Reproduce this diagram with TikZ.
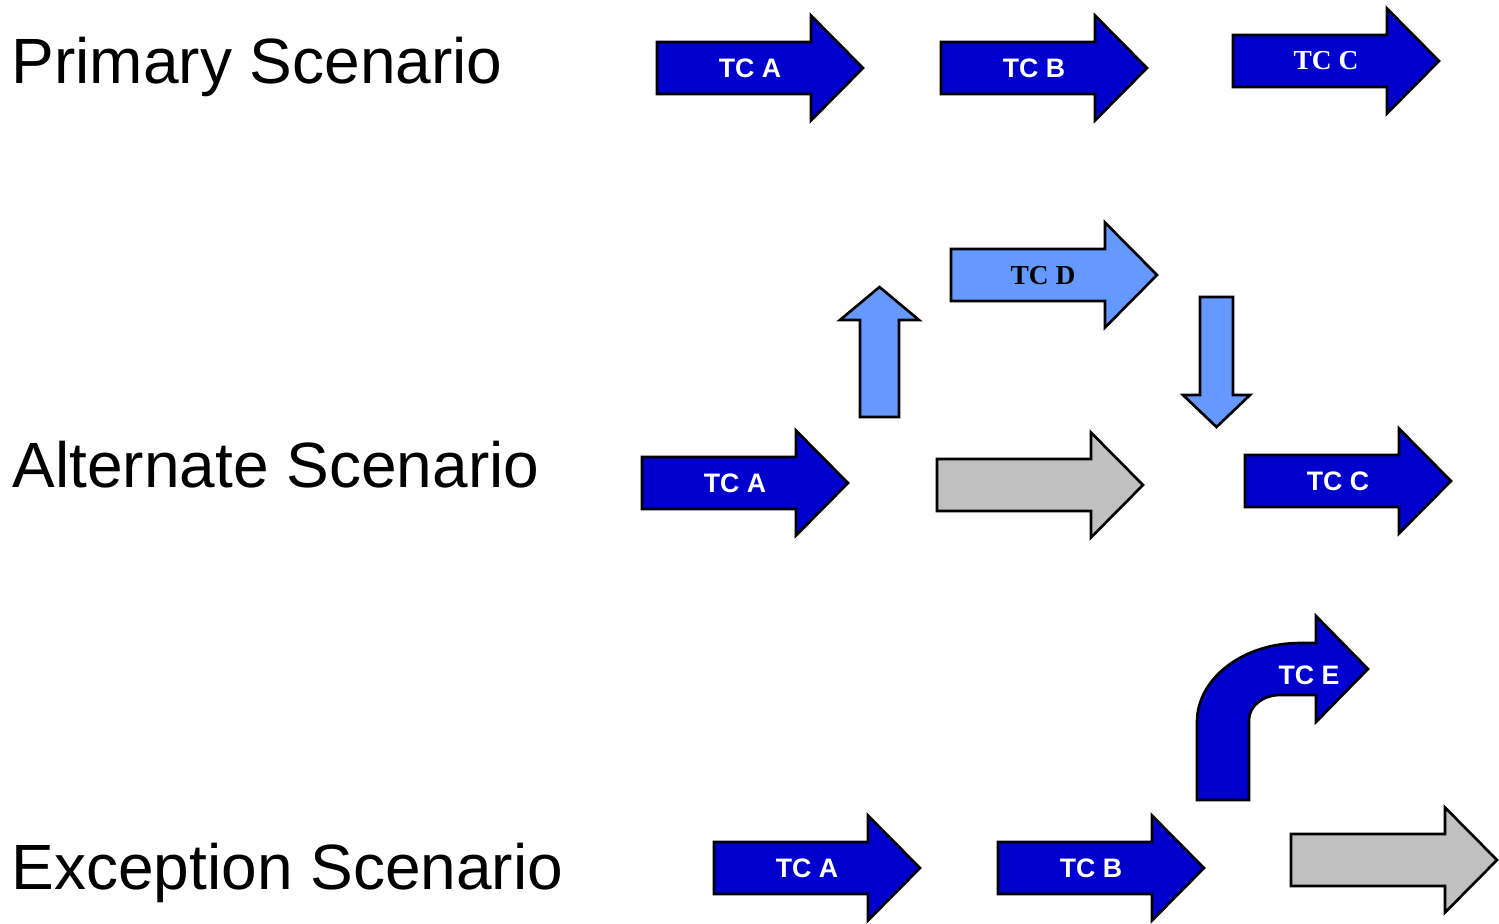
\documentclass[tikz,border=0pt]{standalone}
\usepackage{fontspec}
\setmainfont{Liberation Sans}
\newfontfamily\tcserif{Liberation Serif}
\usepackage{tikz}
\usetikzlibrary{calc}
\definecolor{tcblue}{RGB}{0,0,204}
\definecolor{tclight}{RGB}{102,153,255}
\definecolor{tcgray}{RGB}{192,192,192}
\def\blockarrow[#1](#2,#3){\draw[#1] (#2,#3) ++(0,-26) -- ++(154,0) -- ++(0,-26.5) -- ++(52,52.5) -- ++(-52,52.5) -- ++(0,-26.5) -- ++(-154,0) -- cycle;}
\tikzset{
	shapeline/.style={draw=black, line width=0.75pt, line join=miter},
	darkarrow/.style={shapeline, fill=tcblue},
	lightarrow/.style={shapeline, fill=tclight},
	grayarrow/.style={shapeline, fill=tcgray},
	tclabel/.style={text=white, inner sep=0, font=\bfseries\fontsize{7.6}{9}\selectfont},
	tcseriflabel/.style={tclabel, font=\tcserif\bfseries\fontsize{7.8}{9}\selectfont},
	scenario/.style={anchor=base west, inner sep=0, font=\fontsize{18.2}{21}\selectfont}
}

\begin{document}
\begin{tikzpicture}[x=0.01cm, y=-0.01cm]
			%%%%% START %%%%%
			\useasboundingbox (0,0) rectangle (1499,923);
			
			\node[scenario] (primary) at (11, 83) {Primary Scenario};
			\node[scenario] (alternate) at (12, 487) {Alternate Scenario};
			\node[scenario] (exception) at (11, 889) {Exception Scenario};
			
			% primary
			\blockarrow[darkarrow](657, 68)
			\node[tclabel] (pA) at (750, 68) {TC A};
			\blockarrow[darkarrow](941, 68)
			\node[tclabel] (pB) at (1034, 68) {TC B};
			\blockarrow[darkarrow](1233, 61)
			\node[tcseriflabel] (pC) at (1326, 61) {TC C};
			
			% alternate
			\blockarrow[darkarrow](642, 483)
			\node[tclabel] (aA) at (735, 483) {TC A};
			\blockarrow[grayarrow](937, 485)
			\blockarrow[darkarrow](1245, 481)
			\node[tclabel] (aC) at (1338, 481) {TC C};
			\draw[lightarrow] (860, 417) -- (860, 320) -- (840, 320) -- (879.5, 287) -- (919, 320) -- (899, 320) -- (899, 417) -- cycle;
			\blockarrow[lightarrow](951, 275)
			\node[tcseriflabel, text=black] (aD) at (1043, 276) {TC D};
			\draw[lightarrow] (1200, 297) -- (1233, 297) -- (1233, 395) -- (1250, 395) -- (1216.5, 427) -- (1183, 395) -- (1200, 395) -- cycle;
			
			% exception
			\blockarrow[darkarrow](714, 868)
			\node[tclabel] (eA) at (807, 868) {TC A};
			\blockarrow[darkarrow](998, 868)
			\node[tclabel] (eB) at (1091, 868) {TC B};
			\blockarrow[grayarrow](1291, 860)
			\draw[darkarrow] (1197, 800) -- (1197, 722) arc (180:270:103 and 79) -- (1316, 643) -- (1316, 616) -- (1368, 669) -- (1316, 722) -- (1316, 695) -- (1280, 695) arc (270:180:31 and 25) -- (1249, 800) -- cycle;
			\node[tclabel] (eE) at (1309, 675) {TC E};
			
			%%%%% END %%%%%
\end{tikzpicture}
\end{document}
